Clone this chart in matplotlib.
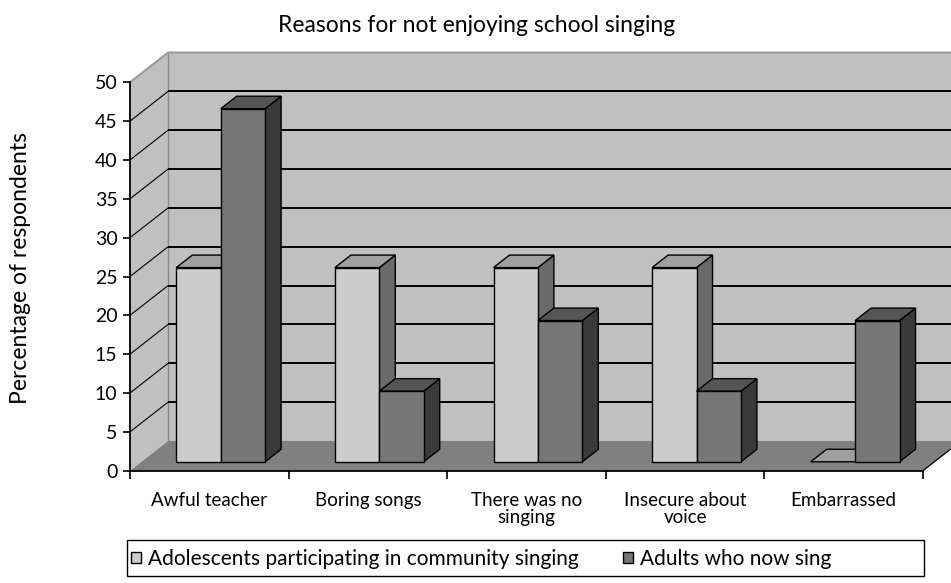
import matplotlib.pyplot as plt
from matplotlib.patches import Polygon, Rectangle, Patch

# Survey results (percentage of respondents)
categories = ['Awful teacher', 'Boring songs', 'There was no\nsinging',
              'Insecure about\nvoice', 'Embarrassed']
adolescents = [25, 25, 25, 25, 0]
adults = [45.45, 9.09, 18.18, 9.09, 18.18]
series_names = ['Adolescents participating in community singing', 'Adults who now sing']
y_ticks = [0, 5, 10, 15, 20, 25, 30, 35, 40, 45, 50]

plt.rcParams['font.family'] = ['Lato', 'DejaVu Sans']

fig = plt.figure(figsize=(9.51, 5.83), dpi=100)
ax = fig.add_axes([130 / 951, 112.3 / 583, 793 / 951, 388.4 / 583])
n = len(categories)
ymax = y_ticks[-1]
ax.set_xlim(0, n)
ax.set_ylim(0, ymax)
ax.patch.set_visible(False)

# oblique depth of the 3-d box, in data units
DX, DY = 0.24, 3.83
wall = '#c0c0c0'
floor = '#808080'


def poly(pts, fc, ec='black', lw=1.0, z=1):
    ax.add_patch(Polygon(pts, closed=True, facecolor=fc, edgecolor=ec,
                         linewidth=lw, clip_on=False, zorder=z,
                         joinstyle='miter'))


def seg(xs, ys, color='black', lw=1.0, z=2):
    ax.plot(xs, ys, color=color, lw=lw, clip_on=False, zorder=z,
            solid_capstyle='butt')


# walls and floor
poly([(0, 0), (DX, DY), (DX, ymax + DY), (0, ymax)], wall, ec='none')
poly([(DX, DY), (n + DX, DY), (n + DX, ymax + DY), (DX, ymax + DY)], wall, ec='none')
poly([(0, 0), (n, 0), (n + DX, DY), (DX, DY)], floor, ec='none')
seg([n, n + DX], [0, DY], lw=0.9)
seg([DX, DX], [DY, ymax + DY], color='#8c8c8c', lw=1.0)
seg([0, DX, n + DX], [ymax, ymax + DY, ymax + DY], color='#9a9a9a', lw=1.5)

# gridlines on the back and side walls
for v in y_ticks[1:-1]:
    seg([DX, n + DX], [v + DY, v + DY], lw=1.4)
    seg([0, DX], [v, v + DY], lw=0.8)

# bars
f0, bd = 0.3, 0.42
w = 0.28
off = (1 - 2 * w) / 2
styles = [('#cccccc', '#a0a0a0', '#6a6a6a'),
          ('#777777', '#555555', '#3a3a3a')]
for i in range(n):
    for j, vals in enumerate([adolescents, adults]):
        val = vals[i]
        front, top, side = styles[j]
        x0 = i + f0 * DX + off + j * w
        x1 = x0 + w
        yb = f0 * DY
        yt = yb + val
        bx, by = bd * DX, bd * DY
        if val > 0:
            poly([(x1, yb), (x1 + bx, yb + by), (x1 + bx, yt + by), (x1, yt)], side, z=3)
        poly([(x0, yt), (x1, yt), (x1 + bx, yt + by), (x0 + bx, yt + by)], top, z=3)
        if val > 0:
            ax.add_patch(Rectangle((x0, yb), w, val, facecolor=front,
                                   edgecolor='black', linewidth=1.0,
                                   clip_on=False, zorder=3))

# front axes
for s in ['top', 'right']:
    ax.spines[s].set_visible(False)
for s in ['left', 'bottom']:
    ax.spines[s].set_linewidth(1.3)
    ax.spines[s].set_zorder(5)
ax.set_yticks(y_ticks)
ax.tick_params(axis='y', direction='out', length=5, width=1.2, pad=4, labelsize=14)
ax.set_xticks(range(n + 1))
ax.set_xticklabels([])
ax.tick_params(axis='x', which='major', direction='out', length=6, width=1.2)
ax.set_xticks([i + 0.5 for i in range(n)], categories, minor=True)
ax.tick_params(axis='x', which='minor', length=0, pad=15, labelsize=13.5)
for lbl in ax.get_xticklabels(minor=True):
    lbl.set_linespacing(1.05)

fig.text(477 / 951, 1 - 25 / 583, 'Reasons for not enjoying school singing',
         ha='center', va='center', fontsize=16.5)
fig.text(21 / 951, 1 - 268 / 583, 'Percentage of respondents',
         ha='center', va='center', rotation=90, fontsize=16.5)

# legend with its own box
fig.add_artist(Rectangle((127 / 951, 7 / 583), 797 / 951, 36 / 583,
                         transform=fig.transFigure, facecolor='none',
                         edgecolor='black', linewidth=1.0))
handles = [Patch(facecolor=styles[0][0], edgecolor='black', linewidth=1.0),
           Patch(facecolor=styles[1][0], edgecolor='black', linewidth=1.0)]
fig.legend(handles, series_names, loc='center left', ncol=2, frameon=False,
           bbox_to_anchor=(127 / 951, 24 / 583), fontsize=15,
           handlelength=0.45, handleheight=0.45, handletextpad=0.35,
           columnspacing=2.15, borderpad=0.2, borderaxespad=0)

fig.savefig('out.png', dpi=100)
